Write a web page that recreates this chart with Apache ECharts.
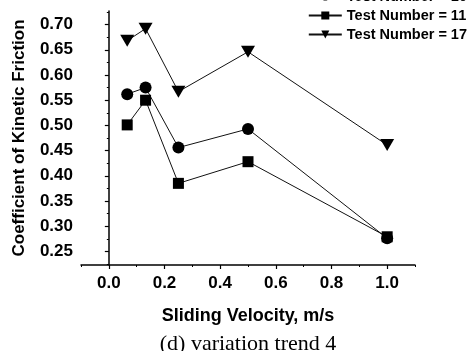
<!DOCTYPE html>
<html><head><meta charset="utf-8">
<script src="https://cdn.jsdelivr.net/npm/echarts@6/dist/echarts.min.js"></script>
<style>html,body{margin:0;padding:0;background:#fff}#c{width:469px;height:351px}</style>
</head><body><div id="c"></div>
<script>
const velocity = [0.066, 0.132, 0.25, 0.5, 1.0];
const test10 = [0.562, 0.575, 0.456, 0.493, 0.276];
const test11 = [0.501, 0.550, 0.385, 0.428, 0.279];
const test17 = [0.668, 0.692, 0.567, 0.646, 0.461];
const seriesNames = ['Test Number = 10', 'Test Number = 11', 'Test Number = 17'];
const xTicks = [0.0, 0.2, 0.4, 0.6, 0.8, 1.0];
const xMinor = [-0.1, 0.1, 0.3, 0.5, 0.7, 0.9, 1.1];
const yTicks = [0.25, 0.30, 0.35, 0.40, 0.45, 0.50, 0.55, 0.60, 0.65, 0.70];
const yMinor = [0.225, 0.275, 0.325, 0.375, 0.425, 0.475, 0.525, 0.575, 0.625, 0.675, 0.725];

const pairs = (ys) => velocity.map((x, i) => [x, ys[i]]);
const font = 'Liberation Sans, Arial, sans-serif';
const chart = echarts.init(document.getElementById('c'));
const X = {min: -0.1, max: 1.1};
const Y = {min: 0.223, max: 0.727};
chart.setOption({
  animation: false,
  grid: {left: 81, right: 54, top: 11, bottom: 86},
  legend: {
    orient: 'vertical', right: 2, top: -11, padding: 0, itemGap: 4,
    itemWidth: 33, itemHeight: 10, align: 'left',
    data: seriesNames,
    textStyle: {fontFamily: font, fontWeight: 'bold', fontSize: 14.5, color: '#000'}
  },
  xAxis: [{
    type: 'value', min: X.min, max: X.max, position: 'bottom',
    name: 'Sliding Velocity, m/s', nameLocation: 'middle', nameGap: 42,
    nameTextStyle: {fontFamily: font, fontWeight: 'bold', fontSize: 18, color: '#000'},
    axisLine: {show: true, lineStyle: {color: '#000', width: 1.5}},
    axisTick: {show: true, length: 4, customValues: xTicks, lineStyle: {color: '#000', width: 1.2}},
    axisLabel: {customValues: xTicks, margin: 10, fontFamily: font, fontWeight: 'bold', fontSize: 17, color: '#000',
      formatter: v => v.toFixed(1)},
    splitLine: {show: false}
  }, {
    type: 'value', min: X.min, max: X.max, position: 'bottom',
    axisLine: {show: false},
    axisTick: {show: true, length: 2, customValues: xMinor, lineStyle: {color: '#000', width: 1}},
    axisLabel: {show: false}, splitLine: {show: false}
  }],
  yAxis: [{
    type: 'value', min: Y.min, max: Y.max, position: 'left',
    name: 'Coefficient of Kinetic Friction', nameLocation: 'middle', nameGap: 53,
    nameTextStyle: {fontFamily: font, fontWeight: 'bold', fontSize: 17, color: '#000'},
    axisLine: {show: true, lineStyle: {color: '#000', width: 1.5}},
    axisTick: {show: true, length: 4, customValues: yTicks, lineStyle: {color: '#000', width: 1.2}},
    axisLabel: {customValues: yTicks, margin: 8, fontFamily: font, fontWeight: 'bold', fontSize: 17, color: '#000',
      formatter: v => v.toFixed(2)},
    splitLine: {show: false}
  }, {
    type: 'value', min: Y.min, max: Y.max, position: 'left',
    axisLine: {show: false},
    axisTick: {show: true, length: 2, customValues: yMinor, lineStyle: {color: '#000', width: 1}},
    axisLabel: {show: false}, splitLine: {show: false}
  }],
  series: [
    {name: seriesNames[0], type: 'line', data: pairs(test10), symbol: 'circle', symbolSize: 12,
     lineStyle: {color: '#111', width: 1}, itemStyle: {color: '#000'}},
    {name: seriesNames[1], type: 'line', data: pairs(test11), symbol: 'rect', symbolSize: 11,
     lineStyle: {color: '#111', width: 1}, itemStyle: {color: '#000'}},
    {name: seriesNames[2], type: 'line', data: pairs(test17), symbol: 'triangle', symbolRotate: 180, symbolSize: [14, 12],
     lineStyle: {color: '#111', width: 1}, itemStyle: {color: '#000'}}
  ],
  graphic: [{
    type: 'text', x: 248, y: 333,
    style: {text: '(d) variation trend 4', textAlign: 'center', textVerticalAlign: 'top',
      font: '22px "Liberation Serif", "Times New Roman", serif', fill: '#000'}
  }]
});
</script></body></html>
